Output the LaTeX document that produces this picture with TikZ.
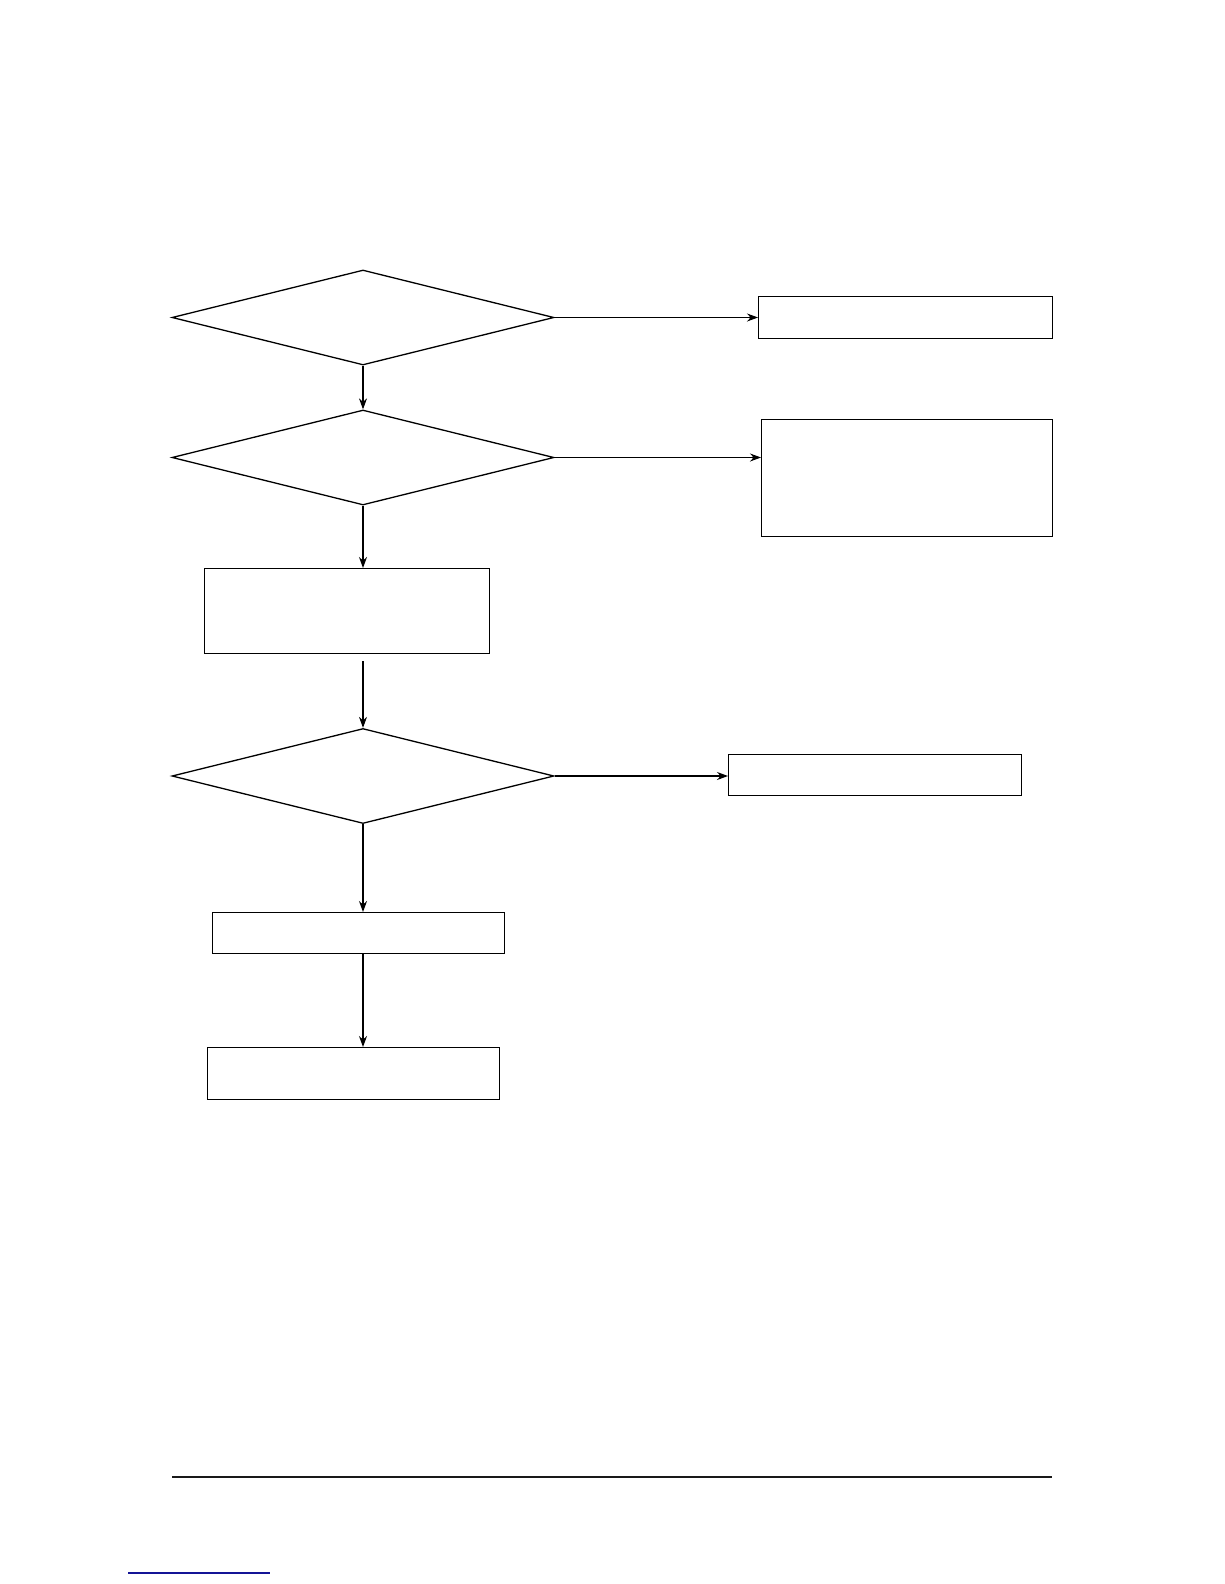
\documentclass[tikz,border=0pt]{standalone}
\usetikzlibrary{shapes.geometric,arrows.meta}
\begin{document}
\begin{tikzpicture}[x=1pt,y=-1pt,
  dia/.style={draw,shape=diamond,minimum width=382pt,minimum height=95pt,inner sep=0pt,line width=1.3pt},
  boxn/.style={draw,rectangle,inner sep=0pt,line width=1.3pt,anchor=north west},
  conn/.style={line width=1.1pt,-{Stealth[length=11pt,width=8pt]}}]
\useasboundingbox (0,0) rectangle (1224,1584);
% decisions
\node[dia] (d1) at (363,317.5) {};
\node[dia] (d2) at (363,457.5) {};
\node[dia] (d3) at (363,776) {};
% boxes
\node[boxn,minimum width=294pt,minimum height=42pt] (b1) at (758,296) {};
\node[boxn,minimum width=291pt,minimum height=117pt] (b2) at (761,419) {};
\node[boxn,minimum width=285pt,minimum height=85pt] (b3) at (204,568) {};
\node[boxn,minimum width=293pt,minimum height=41pt] (b6) at (728,754) {};
\node[boxn,minimum width=292pt,minimum height=41pt] (b4) at (212,912) {};
\node[boxn,minimum width=292pt,minimum height=52pt] (b5) at (207,1047) {};
% connectors
\draw[conn] (d1.south) -- (d2.north);
\draw[conn] (d2.south) -- (d2.south |- b3.north);
\draw[conn,shorten <=7pt] (d3.north |- b3.south) -- (d3.north);
\draw[conn] (d3.south) -- (d3.south |- b4.north);
\draw[conn] (d3.south |- b4.south) -- (d3.south |- b5.north);
\draw[conn] (d1.east) -- (b1.west |- d1.east);
\draw[conn] (d2.east) -- (b2.west |- d2.east);
\draw[conn] (d3.east) -- (b6.west |- d3.east);
% footer rule
\coordinate (fl) at (172,1477);
\coordinate (fr) at (1052,1477);
\draw[line width=2.6pt,black!90] (fl) -- (fr);
\coordinate (ul) at (128,1573);
\coordinate (ur) at (270,1573);
\draw[line width=1.2pt,color={rgb,255:red,20;green,20;blue,150}] (ul) -- (ur);
\end{tikzpicture}
\end{document}
